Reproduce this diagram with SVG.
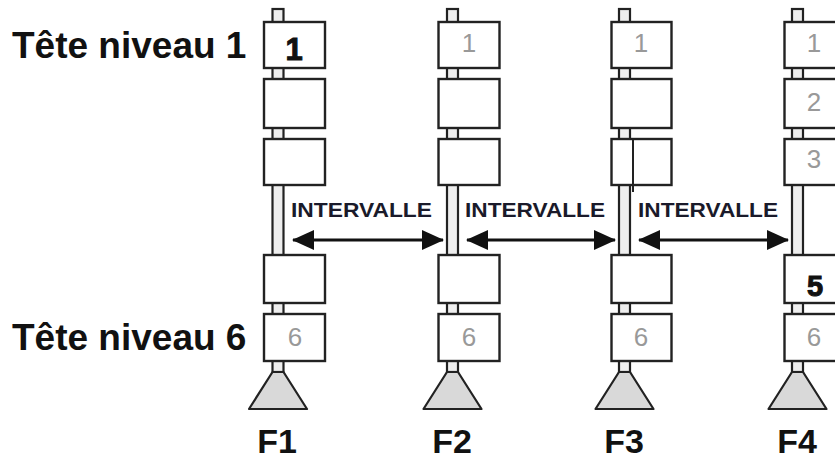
<svg xmlns="http://www.w3.org/2000/svg" width="835" height="461" viewBox="0 0 835 461">
<defs>
<style>
.pole{fill:#eeeeee;stroke:#222;stroke-width:2.2}
.box{fill:#fff;stroke:#222;stroke-width:2.4}
.base{fill:#d9d9d9;stroke:#222;stroke-width:2.2;stroke-linejoin:round}
.dg{font-family:"Liberation Sans",Arial,sans-serif;font-size:26px;fill:#999;text-anchor:middle}
.db{font-family:"Liberation Sans",Arial,sans-serif;font-size:31px;font-weight:bold;fill:#111;stroke:#111;stroke-width:1;text-anchor:middle}
.fl{font-family:"Liberation Sans",Arial,sans-serif;font-size:34px;font-weight:bold;fill:#111;text-anchor:middle}
.tt{font-family:"Liberation Sans",Arial,sans-serif;font-size:37px;font-weight:bold;fill:#111}
.iv{font-family:"Liberation Sans",Arial,sans-serif;font-size:21px;font-weight:bold;fill:#1a1a2a}
.arr{stroke:#111;stroke-width:3;fill:none;marker-start:url(#ah);marker-end:url(#ah)}
</style>
<marker id="ah" viewBox="0 0 22 20" refX="21" refY="10" markerWidth="22" markerHeight="20" markerUnits="userSpaceOnUse" orient="auto-start-reverse">
<path d="M0,0 L22,10 L0,20 z" fill="#111"/>
</marker>
</defs>
<rect width="835" height="461" fill="#fff"/>

<g id="labels">
<text class="tt" x="12" y="58">Tête niveau 1</text>
<text class="tt" x="12" y="350">Tête niveau 6</text>
</g>

<g id="F1">
<rect class="pole" x="272.5" y="9" width="11" height="363"/>
<rect class="box" x="264" y="22" width="61" height="46"/>
<rect class="box" x="264" y="79" width="61" height="49"/>
<rect class="box" x="264" y="139" width="61" height="46"/>
<rect class="box" x="264" y="255" width="61" height="48"/>
<rect class="box" x="264" y="314" width="61" height="47"/>
<polygon class="base" points="272.5,372 283.5,372 307,409 249,409"/>
<text class="db" x="294" y="60">1</text>
<text class="dg" x="295" y="346">6</text>
<text class="fl" x="277" y="453">F1</text>
</g>

<g id="F2">
<rect class="pole" x="447" y="9" width="11" height="363"/>
<rect class="box" x="438.5" y="22" width="61" height="46"/>
<rect class="box" x="438.5" y="79" width="61" height="49"/>
<rect class="box" x="438.5" y="139" width="61" height="46"/>
<rect class="box" x="438.5" y="255" width="61" height="48"/>
<rect class="box" x="438.5" y="314" width="61" height="47"/>
<polygon class="base" points="447,372 458,372 481.5,409 423.5,409"/>
<text class="dg" x="469" y="52">1</text>
<text class="dg" x="469" y="346">6</text>
<text class="fl" x="452" y="453">F2</text>
</g>

<g id="F3">
<rect class="pole" x="619" y="9" width="11" height="363"/>
<rect class="box" x="611.5" y="22" width="60" height="46"/>
<rect class="box" x="611.5" y="79" width="60" height="49"/>
<rect class="box" x="611.5" y="139" width="60" height="46"/>
<line x1="633" y1="139" x2="633" y2="192" stroke="#222" stroke-width="2"/>
<rect class="box" x="611.5" y="255" width="60" height="48"/>
<rect class="box" x="611.5" y="314" width="60" height="47"/>
<polygon class="base" points="619,372 630,372 653.5,409 595.5,409"/>
<text class="dg" x="641" y="52">1</text>
<text class="dg" x="641" y="346">6</text>
<text class="fl" x="624" y="453">F3</text>
</g>

<g id="F4">
<rect class="pole" x="792" y="9" width="11" height="363"/>
<rect class="box" x="784.5" y="22" width="61" height="46"/>
<rect class="box" x="784.5" y="79" width="61" height="49"/>
<rect class="box" x="784.5" y="139" width="61" height="46"/>
<rect class="box" x="784.5" y="255" width="61" height="48"/>
<rect class="box" x="784.5" y="314" width="61" height="47"/>
<polygon class="base" points="792,372 803,372 826.5,409 768.5,409"/>
<text class="dg" x="814" y="52">1</text>
<text class="dg" x="814" y="111">2</text>
<text class="dg" x="814" y="168">3</text>
<text class="db" x="815" y="296" style="font-size:29px">5</text>
<text class="dg" x="814" y="346">6</text>
<text class="fl" x="797" y="453">F4</text>
</g>

<g id="connectors">
<line class="arr" x1="293" y1="240" x2="443" y2="240"/>
<line class="arr" x1="467" y1="240" x2="615" y2="240"/>
<line class="arr" x1="639" y1="240" x2="788" y2="240"/>
<text class="iv" x="291" y="217" textLength="141" lengthAdjust="spacingAndGlyphs">INTERVALLE</text>
<text class="iv" x="465" y="217" textLength="140" lengthAdjust="spacingAndGlyphs">INTERVALLE</text>
<text class="iv" x="638" y="217" textLength="140" lengthAdjust="spacingAndGlyphs">INTERVALLE</text>
</g>
</svg>
